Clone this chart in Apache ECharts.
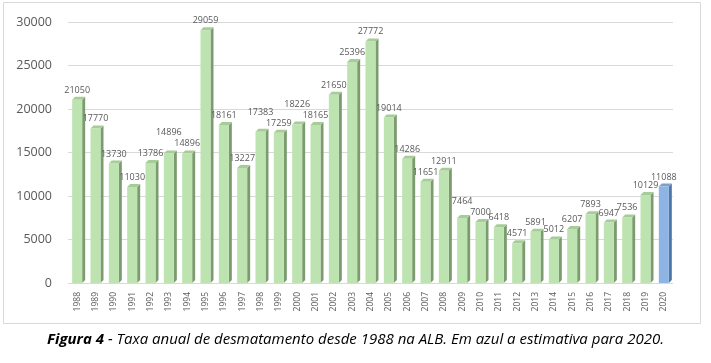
<!DOCTYPE html>
<html><head><meta charset="utf-8">
<script src="https://cdn.jsdelivr.net/npm/echarts@6/dist/echarts.min.js"></script>
<style>html,body{margin:0;padding:0;background:#fff}#c{width:711px;height:363px}</style>
</head><body><div id="c"></div>
<script>
var years = ['1988','1989','1990','1991','1992','1993','1994','1995','1996','1997','1998','1999','2000','2001','2002','2003','2004','2005','2006','2007','2008','2009','2010','2011','2012','2013','2014','2015','2016','2017','2018','2019','2020'];
var values = [21050,17770,13730,11030,13786,14896,14896,29059,18161,13227,17383,17259,18226,18165,21650,25396,27772,19014,14286,11651,12911,7464,7000,6418,4571,5891,5012,6207,7893,6947,7536,10129,11088];
var yTicks = [0,5000,10000,15000,20000,25000,30000];
var highlightIndex = years.indexOf('2020');

var frontGreen = '#bde3b0', sideGreen = '#7c9c70', topGreen = '#a6cc98';
var frontBlue = '#8eb4e3', sideBlue = '#4f77aa', topBlue = '#7aa0d0';
var labelFont = 9, labelDist = 5, labelOffX = 2;

var barData = values.map(function(v, i){
  return {value: v, itemStyle: {color: i === highlightIndex ? frontBlue : frontGreen}};
});

var shifts = values.map(function(){ return 0; });

var chart = echarts.init(document.getElementById('c'));
function build(){
  return {
  animation: false,
  title: {
    left: 'center', top: 327,
    text: '{b|Figura 4} - Taxa anual de desmatamento desde 1988 na ALB. Em azul a estimativa para 2020.',
    textStyle: {
      fontFamily: 'Open Sans', fontStyle: 'italic', fontSize: 15, color: '#000', fontWeight: 'normal',
      rich: {b: {fontFamily: 'Open Sans', fontStyle: 'italic', fontWeight: 'bold', fontSize: 15, color: '#000'}}
    }
  },
  graphic: [{
    type: 'rect', shape: {x: 3.5, y: 2.5, width: 697, height: 321},
    style: {fill: 'none', stroke: '#d9d9d9', lineWidth: 1}, z: -1
  }],
  grid: {left: 68, right: 38, top: 22, bottom: 80},
  xAxis: {
    type: 'category', data: years,
    axisLine: {show: false}, axisTick: {show: false},
    axisLabel: {rotate: 90, fontSize: 8.5, color: '#595959', margin: 9, fontFamily: 'Open Sans', interval: 0}
  },
  yAxis: {
    type: 'value', min: yTicks[0], max: yTicks[yTicks.length-1], interval: 5000,
    axisLine: {show: false}, axisTick: {show: false},
    axisLabel: {fontSize: 12.5, color: '#595959', margin: 16, fontFamily: 'Open Sans', padding: [8,0,0,0], formatter: function(v){ return String(v); }},
    splitLine: {lineStyle: {color: '#d9d9d9', width: 1}}
  },
  series: [{
    type: 'bar', data: barData, barWidth: 10,
    label: {show: true, position: 'top', distance: labelDist, fontSize: labelFont, color: '#595959', fontFamily: 'Open Sans', offset: [labelOffX, 0]},
    labelLayout: function(p){ return {dy: shifts[p.dataIndex] || 0}; },
    z: 3
  }, {
    type: 'custom', z: 2,
    data: values.map(function(v, i){ return [i, v]; }),
    renderItem: function(params, api){
      var i = api.value(0), v = api.value(1);
      var top = api.coord([i, v]);
      var base = api.coord([i, 0]);
      var w = 10, d = 3;
      var x1 = top[0] + w/2;
      var x0 = top[0] - w/2;
      var hi = i === highlightIndex;
      return {type: 'group', children: [
        {type: 'polygon', shape: {points: [[x1, top[1]], [x1 + d, top[1] - d], [x1 + d, base[1] - d], [x1, base[1]]]},
         style: {fill: hi ? sideBlue : sideGreen}},
        {type: 'polygon', shape: {points: [[x0, top[1]], [x0 + d, top[1] - d], [x1 + d, top[1] - d], [x1, top[1]]]},
         style: {fill: hi ? topBlue : topGreen}}
      ]};
    }
  }]
  };
}
chart.setOption(build());

// avoid overlapping value labels: raise the left label of a clearly overlapping pair
var ctx = document.createElement('canvas').getContext('2d');
ctx.font = labelFont + 'px "Open Sans"';
var rects = values.map(function(v, i){
  var p = chart.convertToPixel({seriesIndex: 0}, [i, v]);
  var w = ctx.measureText(String(v)).width;
  return {x: p[0] + labelOffX - w/2, y: p[1], w: w, v: v};
});
var glyphH = 4.5, raise = 11;
for (var i = rects.length - 2; i >= 0; i--) {
  var a = rects[i], b = rects[i+1];
  var ay = a.y + shifts[i], by = b.y + shifts[i+1];
  var xo = Math.min(a.x + a.w, b.x + b.w) - Math.max(a.x, b.x);
  if (xo > 1 && a.v >= b.v && Math.abs(ay - by) < glyphH) {
    shifts[i] = (by - raise) - a.y;
  }
}
chart.setOption(build());
</script></body></html>
